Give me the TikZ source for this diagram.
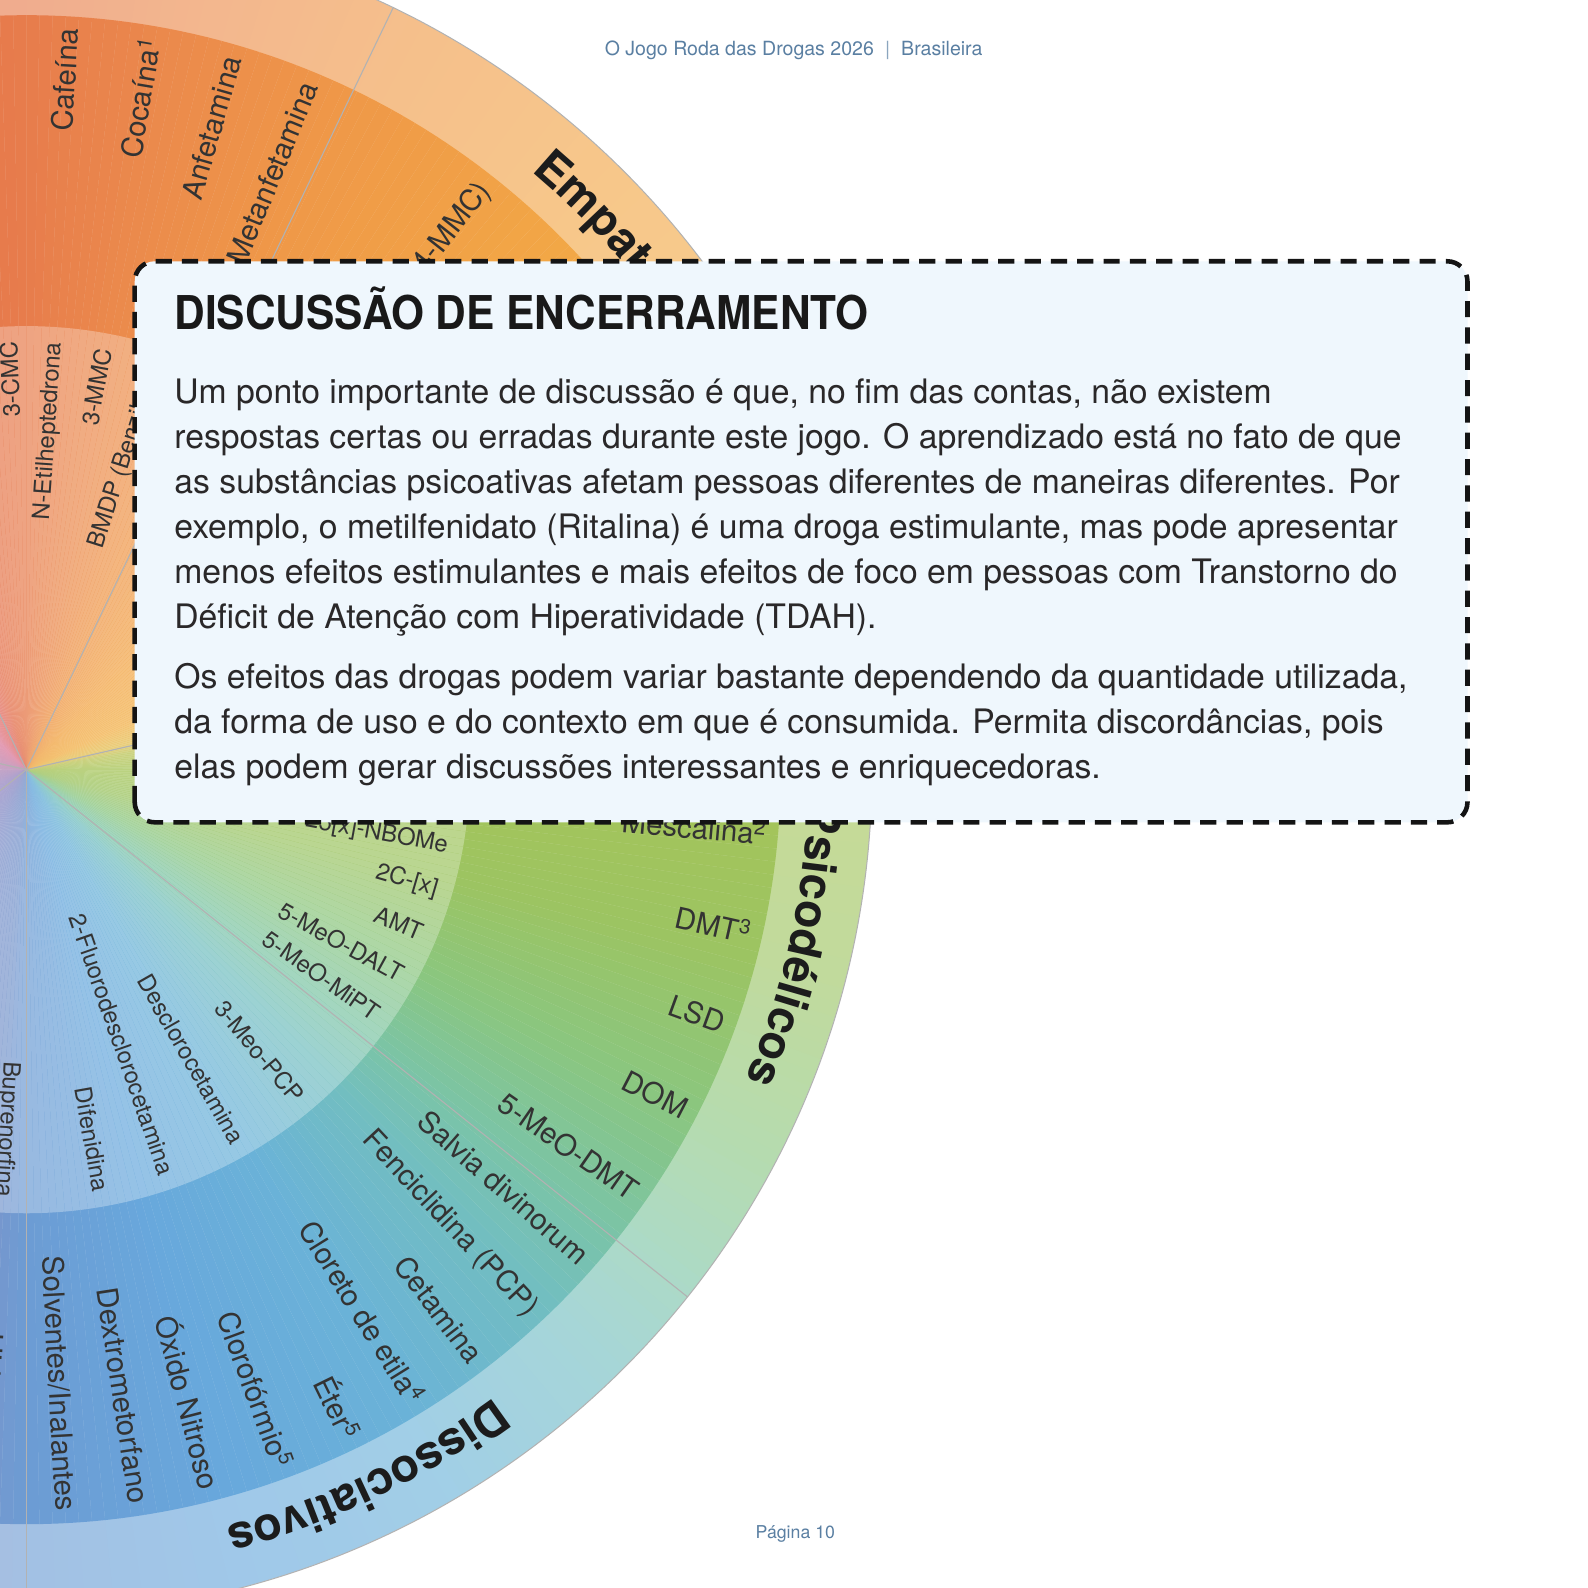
\documentclass[tikz,border=0pt]{standalone}
\usepackage{fontspec}
\usepackage{graphicx}
\setmainfont{TeX Gyre Heros}
\usetikzlibrary{decorations.text}
\definecolor{c01}{HTML}{B48CB8}
\definecolor{c02}{HTML}{9C8CC4}
\definecolor{c03}{HTML}{8A90C8}
\definecolor{c04}{HTML}{7896CC}
\definecolor{c05}{HTML}{6C9CD4}
\definecolor{c06}{HTML}{68A8DC}
\definecolor{c07}{HTML}{6AB2D8}
\definecolor{c08}{HTML}{72BEC0}
\definecolor{c09}{HTML}{7CC4A4}
\definecolor{c10}{HTML}{8AC680}
\definecolor{c11}{HTML}{9CC462}
\definecolor{c12}{HTML}{A6C458}
\definecolor{c13}{HTML}{BCC458}
\definecolor{c14}{HTML}{E4BE52}
\definecolor{c15}{HTML}{F2B048}
\definecolor{c16}{HTML}{F2A646}
\definecolor{c17}{HTML}{EF9848}
\definecolor{c18}{HTML}{EB8A4C}
\definecolor{c19}{HTML}{E77C4C}
\definecolor{c20}{HTML}{E4724E}
\definecolor{c21}{HTML}{E2706A}
\definecolor{c22}{HTML}{DC80A0}
\definecolor{boxfill}{HTML}{EFF7FD}
\definecolor{bodytxt}{HTML}{2A2829}
\definecolor{hdrcol}{HTML}{5A7FA2}
\definecolor{lblcol}{HTML}{333333}
\definecolor{catcol}{HTML}{1C1C1C}
\newcommand{\catfont}{\fontsize{46}{48}\selectfont\bfseries}
\tikzset{
  lbl/.style={font=\fontsize{29}{30}\selectfont, text=lblcol, anchor=east, inner sep=0pt},
  ilbl/.style={font=\fontsize{23.5}{25}\selectfont, text=lblcol, anchor=east, inner sep=0pt},
  sepline/.style={draw=black!30, line width=1.1pt},
  bodyline/.style={anchor=base west, inner sep=0pt, text=bodytxt, font=\fontsize{33.3}{40}\selectfont},
  catlabel/.style={decorate, decoration={text along path, text align=center, text color=catcol, text={|\catfont|#1}}},
  hdrtext/.style={anchor=base west, inner sep=0pt, text=hdrcol},
  dashbox/.style={draw=black!92, line width=4.5pt, dash pattern=on 16pt off 10pt, rounded corners=20pt, fill=boxfill}
}
\begin{document}
\begin{tikzpicture}[x=1pt,y=1pt]
\useasboundingbox (0,0) rectangle (1568,1568);
\fill[white] (0,0) rectangle (1568,1568);
\begin{scope}
\clip (0,0) rectangle (1568,1568);
\begin{scope}[shift={(26,808)}]
  % conic colour gradient in three bands
  \foreach \sa/\sb/\ca/\cb in {-180/-150/c01/c02,-150/-120/c02/c03,-120/-95/c03/c04,-95/-90/c04/c05,-90/-75/c05/c06,-75/-60/c06/c07,-60/-46/c07/c08,-46/-38/c08/c09,-38/-28/c09/c10,-28/-15/c10/c11,-15/0/c11/c12,0/9/c12/c13,9/14/c13/c14,14/24/c14/c15,24/45/c15/c16,45/64/c16/c17,64/78/c17/c18,78/90/c18/c19,90/104/c19/c20,104/116/c20/c21,116/135/c21/c22,135/180/c22/c01}{
    \pgfmathtruncatemacro{\ne}{\sb-1}
    \foreach \a in {\sa,...,\ne}{
      \pgfmathtruncatemacro{\p}{100*(\a-\sa)/(\sb-\sa)}
      \colorlet{midc}{\cb!\p!\ca}
      \fill[midc!63!white] (0,0) -- (\a:835) arc[start angle=\a, end angle=\a+1.3, radius=835] -- cycle;
      \fill[midc] (0,0) -- (\a:745) arc[start angle=\a, end angle=\a+1.3, radius=745] -- cycle;
      \fill[midc!70!white] (0,0) -- (\a:438) arc[start angle=\a, end angle=\a+1.3, radius=438] -- cycle;
    }
  }
  \coordinate (C) at (0,0);
  \foreach \b in {-141.43,-90,-38.57,12.86,64.29,115.71,167.14}{
    \draw[sepline] (C) -- (\b:835);
  }
  \draw[black!30, line width=1pt] (C) circle[radius=835];
  % middle ring labels
  \node[lbl, rotate=93.7] (m01) at (93.7:733) {Metilfenidato};
  \node[lbl, rotate=86.8] (m02) at (86.8:733) {Cafeína};
  \node[lbl, rotate=80.4] (m03) at (80.4:733) {Cocaína\textsuperscript{1}};
  \node[lbl, rotate=73.9] (m04) at (73.9:733) {Anfetamina};
  \node[lbl, rotate=67.6] (m05) at (67.6:733) {Metanfetamina};
  \node[lbl, rotate=51.8] (m06) at (51.8:733) {Mefedrona (4-MMC)};
  \node[lbl, rotate=-4.9] (m07) at (-4.9:733) {Mescalina\textsuperscript{2}};
  \node[lbl, rotate=-12.7] (m08) at (-12.7:733) {DMT\textsuperscript{3}};
  \node[lbl, rotate=-20.0] (m09) at (-20.0:733) {LSD};
  \node[lbl, rotate=-27.3] (m10) at (-27.3:733) {DOM};
  \node[lbl, rotate=-34.8] (m11) at (-34.8:733) {5-MeO-DMT};
  \node[lbl, rotate=-41.2] (m12) at (-41.2:733) {Salvia divinorum};
  \node[lbl, rotate=-47.0] (m13) at (-47.0:733) {Fenciclidina (PCP)};
  \node[lbl, rotate=-52.6] (m14) at (-52.6:733) {Cetamina};
  \node[lbl, rotate=-58.2] (m15) at (-58.2:733) {Cloreto de etila\textsuperscript{4}};
  \node[lbl, rotate=-63.9] (m16) at (-63.9:733) {Éter\textsuperscript{5}};
  \node[lbl, rotate=-69.7] (m17) at (-69.7:733) {Clorofórmio\textsuperscript{5}};
  \node[lbl, rotate=-75.5] (m18) at (-75.5:733) {Óxido Nitroso};
  \node[lbl, rotate=-81.2] (m19) at (-81.2:733) {Dextrometorfano};
  \node[lbl, rotate=-86.9] (m20) at (-86.9:733) {Solventes/Inalantes};
  \node[lbl, rotate=-93.4] (m21) at (-93.4:733) {Hidromorfona};
  % inner ring labels
  \node[ilbl, rotate=92.4] (i01) at (92.4:423) {3-CMC};
  \node[ilbl, rotate=86.2] (i02) at (86.2:423) {N-Etilheptedrona};
  \node[ilbl, rotate=79.6] (i03) at (79.6:423) {3-MMC};
  \node[ilbl, rotate=72.4] (i04) at (72.4:423) {BMDP (Benzilona)};
  \node[ilbl, rotate=-10.3] (i05) at (-10.3:423) {25[x]-NBOMe};
  \node[ilbl, rotate=-16.3] (i06) at (-16.3:423) {2C-[x]};
  \node[ilbl, rotate=-22.4] (i07) at (-22.4:423) {AMT};
  \node[ilbl, rotate=-28.7] (i08) at (-28.7:423) {5-MeO-DALT};
  \node[ilbl, rotate=-34.9] (i09) at (-34.9:423) {5-MeO-MiPT};
  \node[ilbl, rotate=-50.4] (i10) at (-50.4:423) {3-Meo-PCP};
  \node[ilbl, rotate=-60.3] (i11) at (-60.3:423) {Desclorocetamina};
  \node[ilbl, rotate=-70.8] (i12) at (-70.8:423) {2-Fluorodesclorocetamina};
  \node[ilbl, rotate=-79.9] (i13) at (-79.9:423) {Difenidina};
  \node[ilbl, rotate=-93.2] (i14) at (-93.2:423) {Buprenorfina};
  % category names on the outer ring
  \path[catlabel=Empatógenos] (68.57:773) arc[start angle=68.57, end angle=8.57, radius=773];
  \path[catlabel=Psicodélicos] (17.14:773) arc[start angle=17.14, end angle=-42.86, radius=773];
  \path[catlabel=Dissociativos] (-34.29:773) arc[start angle=-34.29, end angle=-94.29, radius=773];
\end{scope}
\end{scope}
% closing discussion box
\draw[dashbox] (133,756) rectangle (1449,1310);
\node[anchor=base west, inner sep=0pt, text=black!90, font=\fontsize{46}{48}\selectfont\bfseries] (title) at (172,1243) {\scalebox{0.91}[1]{DISCUSSÃO DE ENCERRAMENTO}};
\node[bodyline] (b1) at (172,1170) {Um ponto importante de discussão é que, no fim das contas, não existem};
\node[bodyline] (b2) at (172,1125.4) {respostas certas ou erradas durante este jogo. O aprendizado está no fato de que};
\node[bodyline] (b3) at (172,1080.8) {as substâncias psicoativas afetam pessoas diferentes de maneiras diferentes. Por};
\node[bodyline] (b4) at (172,1036.2) {exemplo, o metilfenidato (Ritalina) é uma droga estimulante, mas pode apresentar};
\node[bodyline] (b5) at (172,991.6) {menos efeitos estimulantes e mais efeitos de foco em pessoas com Transtorno do};
\node[bodyline] (b6) at (172,947) {Déficit de Atenção com Hiperatividade (TDAH).};
\node[bodyline] (b7) at (172,888) {Os efeitos das drogas podem variar bastante dependendo da quantidade utilizada,};
\node[bodyline] (b8) at (172,843.4) {da forma de uso e do contexto em que é consumida. Permita discordâncias, pois};
\node[bodyline] (b9) at (172,798.8) {elas podem gerar discussões interessantes e enriquecedoras.};
% header and footer
\node[hdrtext, font=\fontsize{19.3}{22}\selectfont] (hdr) at (597,1513) {O Jogo Roda das Drogas 2026\hspace{11pt}{\color{hdrcol!70}|}\hspace{11pt}Brasileira};
\node[hdrtext, font=\fontsize{17.5}{20}\selectfont] (ftr) at (746,49) {Página 10};
\end{tikzpicture}
\end{document}
